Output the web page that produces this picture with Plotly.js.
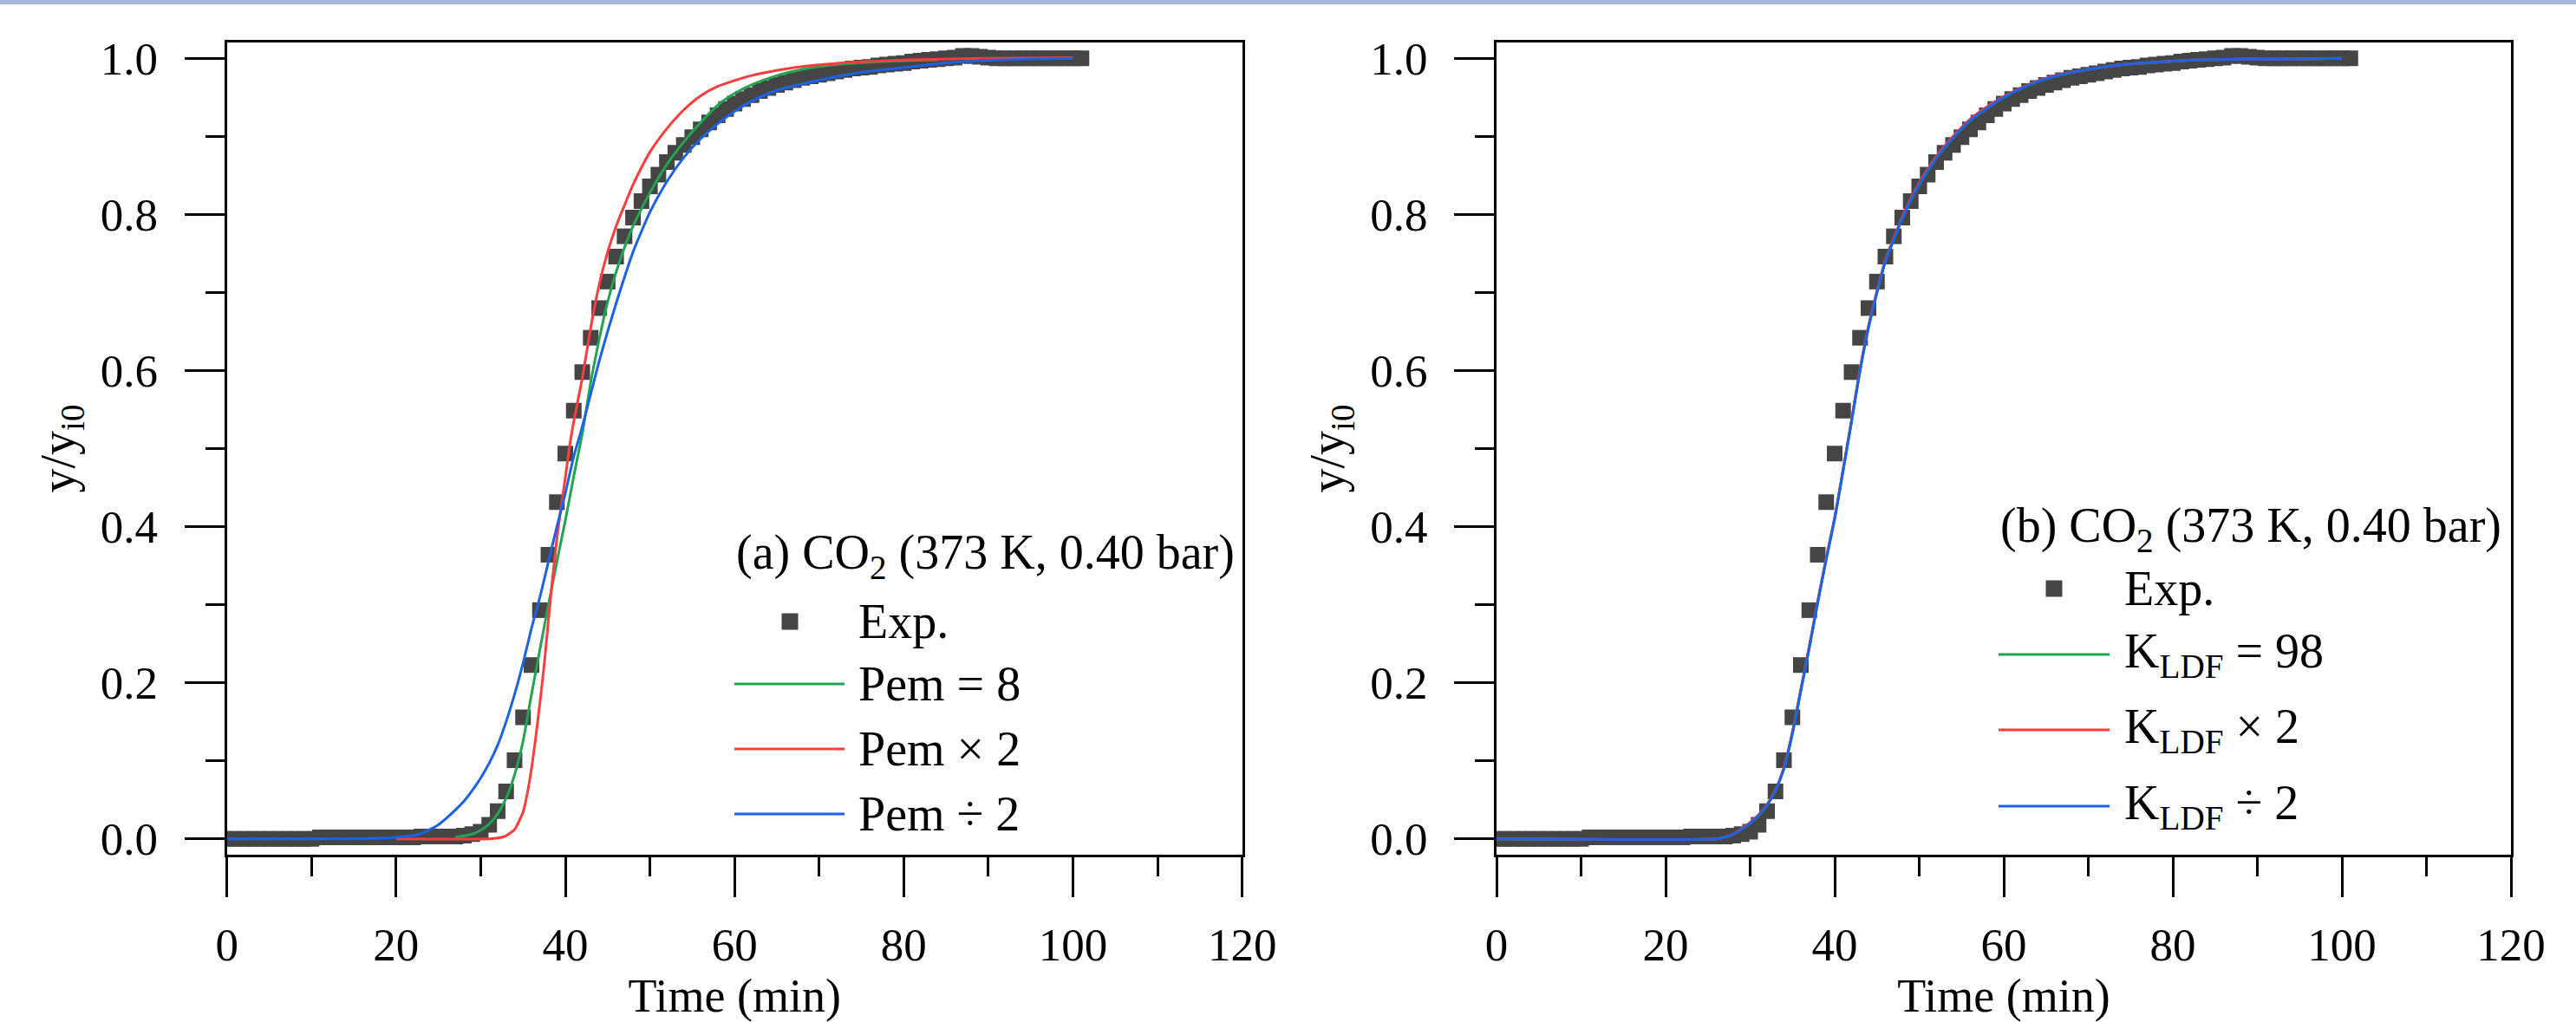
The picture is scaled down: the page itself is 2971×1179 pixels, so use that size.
<!DOCTYPE html>
<html>
<head>
<meta charset="utf-8">
<script src="https://cdn.plot.ly/plotly-3.0.1.min.js"></script>
<style>html,body{margin:0;padding:0;background:#fff;}#chart{width:2971px;height:1179px;}</style>
</head>
<body>
<div id="chart"></div>
<script>
// ---------- data ----------
const expTime = [0,1,2,3,4,5,6,7,8,9,10,11,12,13,14,15,16,17,18,19,20,21,22,23,24,25,26,27,28,29,30,31,32,33,34,35,36,37,38,39,40,41,42,43,44,45,46,47,48,49,50,51,52,53,54,55,56,57,58,59,60,61,62,63,64,65,66,67,68,69,70,71,72,73,74,75,76,77,78,79,80,81,82,83,84,85,86,87,88,89,90,91,92,93,94,95,96,97,98,99,100,101];
const expY = [0,0,0,0,0,0,0,0,0,0,0,0.002,0.002,0.002,0.002,0.002,0.002,0.002,0.002,0.002,0.002,0.002,0.002,0.003,0.003,0.003,0.003,0.003,0.004,0.006,0.009,0.018,0.0355,0.0607,0.1006,0.1557,0.2227,0.293,0.364,0.4314,0.4936,0.5486,0.598,0.642,0.680,0.714,0.746,0.772,0.796,0.817,0.836,0.851,0.867,0.879,0.889,0.899,0.909,0.918,0.927,0.935,0.942,0.948,0.953,0.958,0.962,0.966,0.969,0.972,0.975,0.977,0.979,0.981,0.983,0.985,0.987,0.988,0.989,0.991,0.992,0.993,0.994,0.996,0.997,0.998,0.999,1.000,1.001,1.003,1.003,1.002,1.001,1.000,1.000,1.000,1.000,1.000,1.000,1.000,1.000,1.000,1.000,1.000];

// (a) Pem sensitivity
const pemBaseT = [27,29,30,31,32,33,34,35,36,37,38,39,40,41,42,43,44,45,46,47,48,50,52,54,56,58,60,62,65,68,72,76,80,84];
const pemBaseY = [0.002,0.006,0.011,0.019,0.032,0.052,0.082,0.125,0.185,0.243,0.300,0.355,0.408,0.465,0.519,0.585,0.640,0.688,0.726,0.758,0.785,0.828,0.864,0.893,0.918,0.940,0.955,0.966,0.978,0.986,0.992,0.995,0.997,0.998];
const pemX2T = [20,31,32,33,34,34.5,35,35.5,36,36.5,37,37.5,38,38.5,39,39.5,40,40.5,41,42,43,44,45,46,47,48,50,52,54,56,58,62,67,74,81,90,100];
const pemX2Y = [0,0,0.001,0.004,0.012,0.022,0.034,0.058,0.09,0.13,0.175,0.223,0.28,0.335,0.385,0.425,0.463,0.503,0.535,0.59,0.655,0.71,0.752,0.785,0.812,0.838,0.88,0.91,0.934,0.952,0.964,0.978,0.988,0.995,0.998,1.0,1.001];
const pemD2T = [0,14,18,20,22,23,24,25,26,27,28,29,30,31,32,33,34,35,36,37,38,39,40,41,42,43,44,45,46,47,48,50,52,54,56,58,60,62,65,70,75,79,86,93,100];
const pemD2Y = [0,0,0.0008,0.002,0.004,0.007,0.012,0.018,0.027,0.037,0.048,0.062,0.078,0.097,0.12,0.15,0.185,0.225,0.27,0.31,0.355,0.40,0.443,0.49,0.528,0.57,0.612,0.65,0.686,0.72,0.752,0.803,0.842,0.873,0.897,0.916,0.932,0.945,0.959,0.972,0.982,0.987,0.995,0.9986,1.0];

// (b) K_LDF sensitivity
const ldfT = [0,26,27,28,29,30,31,32,33,34,35,36,37,38,39,40,41,42,43,44,45,46,47,48,49,50,52,54,56,58,60,63,66,70,74,78,83,88,94,100];
const ldfBaseY = [0,0,0.002,0.006,0.012,0.020,0.030,0.043,0.062,0.090,0.135,0.190,0.245,0.303,0.358,0.410,0.472,0.535,0.600,0.655,0.700,0.740,0.768,0.795,0.818,0.838,0.872,0.898,0.920,0.936,0.950,0.966,0.977,0.986,0.992,0.995,0.998,0.999,0.999,1.0];
const ldfX2Y = [0,0,0.002,0.006,0.013,0.021,0.031,0.044,0.063,0.092,0.137,0.192,0.247,0.305,0.360,0.412,0.474,0.537,0.602,0.657,0.702,0.742,0.770,0.797,0.820,0.840,0.874,0.900,0.922,0.938,0.951,0.967,0.978,0.986,0.992,0.995,0.998,0.999,0.999,1.0];
const ldfD2Y = [0,0,0.002,0.006,0.012,0.020,0.030,0.043,0.062,0.090,0.135,0.190,0.245,0.303,0.358,0.410,0.472,0.535,0.600,0.655,0.700,0.740,0.768,0.795,0.818,0.838,0.872,0.898,0.920,0.936,0.950,0.966,0.977,0.986,0.992,0.995,0.998,0.999,0.999,1.0];

const xTicks = [0,20,40,60,80,100,120];
const yTicks = [0.0,0.2,0.4,0.6,0.8,1.0];
const legendTitleA = '(a) CO<sub>2</sub> (373 K, 0.40 bar)';
const legendTitleB = '(b) CO<sub>2</sub> (373 K, 0.40 bar)';
const legendNamesA = ['Exp.','Pem = 8','Pem × 2','Pem ÷ 2'];
const legendNamesB = ['Exp.','K<sub>LDF</sub> = 98','K<sub>LDF</sub> × 2','K<sub>LDF</sub> ÷ 2'];

// ---------- styling ----------
const W = 2971, H = 1179;
const FONT = '"Liberation Serif", "Times New Roman", serif';
const cExp = '#454545', cGreen = '#22a552', cRed = '#ff3c3c', cBlue = '#1b63e4';
const px = v => v / W, py = v => 1 - v / H;

function expTrace(xa, ya){
  return {x: expTime, y: expY, xaxis: xa, yaxis: ya, type: 'scatter', mode: 'markers', name: 'Exp.',
    marker: {symbol: 'square', size: 18, color: cExp, line: {width: 0}}, showlegend: false};
}
function lineTrace(x, y, color, xa, ya, name){
  return {x: x, y: y, xaxis: xa, yaxis: ya, type: 'scatter', mode: 'lines', name: name,
    line: {color: color, width: 3, shape: 'spline', smoothing: 0.6}, showlegend: false};
}
const data = [
  expTrace('x','y'),
  lineTrace(pemBaseT, pemBaseY, cGreen, 'x','y', legendNamesA[1]),
  lineTrace(pemX2T, pemX2Y, cRed, 'x','y', legendNamesA[2]),
  lineTrace(pemD2T, pemD2Y, cBlue, 'x','y', legendNamesA[3]),
  expTrace('x2','y2'),
  lineTrace(ldfT, ldfBaseY, cGreen, 'x2','y2', legendNamesB[1]),
  lineTrace(ldfT, ldfX2Y, cRed, 'x2','y2', legendNamesB[2]),
  lineTrace(ldfT, ldfD2Y, cBlue, 'x2','y2', legendNamesB[3])
];

function xAxis(domain, yanchor){
  return {domain: domain, anchor: yanchor, range: [0,120], tickvals: xTicks, ticktext: xTicks.map(String),
    ticks: 'outside', ticklen: 46, tickwidth: 3, tickcolor: '#000',
    minor: {dtick: 10, tick0: 0, ticks: 'outside', ticklen: 22, tickwidth: 3, tickcolor: '#000'},
    showline: true, linewidth: 3, linecolor: '#000', mirror: true, showgrid: false, zeroline: false,
    tickfont: {family: FONT, size: 53, color: '#000'}, ticklabelstandoff: 10,
    title: {text: 'Time (min)', font: {family: FONT, size: 54, color: '#000'}, standoff: 0}};
}
function yAxis(domain, xanchor){
  return {domain: domain, anchor: xanchor, range: [-0.02,1.02], tickvals: yTicks, ticktext: yTicks.map(v => v.toFixed(1)),
    ticks: 'outside', ticklen: 46, tickwidth: 3, tickcolor: '#000',
    minor: {tickvals: [0.1,0.3,0.5,0.7,0.9], ticks: 'outside', ticklen: 22, tickwidth: 3, tickcolor: '#000'},
    showline: true, linewidth: 3, linecolor: '#000', mirror: true, showgrid: false, zeroline: false,
    tickfont: {family: FONT, size: 53, color: '#000'}, ticklabelstandoff: 20,
    title: {text: 'y/y<sub>i0</sub>', font: {family: FONT, size: 56, color: '#000'}, standoff: 12}};
}

const ydom = [1 - 985.7 / H, 1 - 49.3 / H];
const layout = {
  width: W, height: H, margin: {l: 0, r: 0, t: 0, b: 0},
  paper_bgcolor: '#fff', plot_bgcolor: '#fff', showlegend: false,
  xaxis: xAxis([px(261.7), px(1432.7)], 'y'),
  yaxis: yAxis(ydom, 'x'),
  xaxis2: xAxis([px(1726), px(2896)], 'y2'),
  yaxis2: yAxis(ydom, 'x2'),
  annotations: [], shapes: []
};

// top border strip of the screenshot
layout.shapes.push({type: 'rect', xref: 'paper', yref: 'paper', x0: 0, x1: 1, y0: py(5), y1: 1, line: {width: 0}, fillcolor: '#a3b6e0'});

function addLegend(title, names, titleX, titleY, markerX, textX, rowsY, lineX0, lineX1){
  const f = {family: FONT, size: 56, color: '#000'};
  layout.annotations.push({xref: 'paper', yref: 'paper', x: px(titleX), y: py(titleY), xanchor: 'left', yanchor: 'middle', text: title, showarrow: false, font: f});
  layout.shapes.push({type: 'rect', xref: 'paper', yref: 'paper', x0: px(markerX - 9.5), x1: px(markerX + 9.5), y0: py(rowsY[0] + 9.5), y1: py(rowsY[0] - 9.5), line: {width: 0}, fillcolor: cExp});
  const cols = [cGreen, cRed, cBlue];
  names.forEach((n, i) => {
    layout.annotations.push({xref: 'paper', yref: 'paper', x: px(textX), y: py(rowsY[i]), xanchor: 'left', yanchor: 'middle', text: n, showarrow: false, font: f});
    if (i > 0) layout.shapes.push({type: 'line', xref: 'paper', yref: 'paper', x0: px(lineX0), x1: px(lineX1), y0: py(rowsY[i]), y1: py(rowsY[i]), line: {color: cols[i-1], width: 3}});
  });
}
addLegend(legendTitleA, legendNamesA, 847, 641, 911, 988, [717, 789, 864, 939], 847, 974);
addLegend(legendTitleB, legendNamesB, 2305, 610, 2369, 2448, [679, 755, 842, 930], 2305, 2433);

Plotly.newPlot('chart', data, layout, {staticPlot: true});
</script>
</body>
</html>
